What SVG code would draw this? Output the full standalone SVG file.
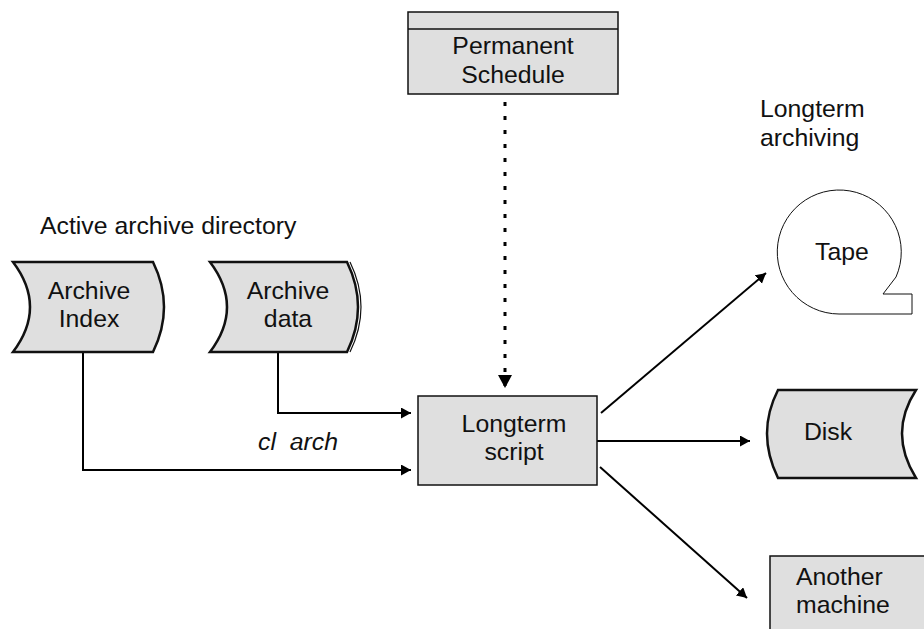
<svg xmlns="http://www.w3.org/2000/svg" width="924" height="629" viewBox="0 0 924 629">
<style>
  text { font-family: "Liberation Sans", Arial, sans-serif; font-size: 24.8px; fill: #111; }
  .mid { text-anchor: middle; }
  .shape { fill: #dfdfdf; stroke: #111; }
  .thick { stroke-width: 2.5; }
  .thin { stroke-width: 1.5; }
  .conn { fill: none; stroke: #000; stroke-width: 2; }
  .dots { fill: none; stroke: #000; stroke-width: 3; stroke-dasharray: 4 10; }
</style>
<defs>
  <marker id="arrow" markerUnits="userSpaceOnUse" markerWidth="12" markerHeight="12" refX="10" refY="5.5" orient="auto">
    <path d="M0,0 L10,5.5 L0,11 Z" fill="#000"/>
  </marker>
  <marker id="arrowBig" markerUnits="userSpaceOnUse" markerWidth="16" markerHeight="16" refX="13" refY="7" orient="auto">
    <path d="M0,0 L13,7 L0,14 Z" fill="#000"/>
  </marker>
</defs>

<text x="40" y="234">Active archive directory</text>
<text x="760" y="117">Longterm</text>
<text x="760" y="146">archiving</text>

<g id="connectors">
  <path class="conn" d="M83,352 V470 H411" marker-end="url(#arrow)"/>
  <path class="conn" d="M278,352 V413 H411" marker-end="url(#arrow)"/>
  <path class="dots" d="M505,102 V388"/>
  <path d="M505,370 V388" fill="none" stroke="none" marker-end="url(#arrowBig)"/>
  <path class="conn" d="M601,413 L766,273" marker-end="url(#arrow)"/>
  <path class="conn" d="M597,441 L750,441" marker-end="url(#arrow)"/>
  <path class="conn" d="M600,467 L747,598" marker-end="url(#arrow)"/>
  <text x="258" y="450" font-style="italic" xml:space="preserve">cl  arch</text>
</g>

<g id="schedule">
  <rect class="shape thin" x="408" y="12" width="210" height="82"/>
  <line x1="408" y1="29" x2="618" y2="29" stroke="#111" stroke-width="1.5"/>
  <text class="mid" x="513" y="54">Permanent</text>
  <text class="mid" x="513" y="83">Schedule</text>
</g>

<g id="archive-index">
  <path class="shape thick" d="M13,262 L153,262 Q175,307 153,352 L13,352 Q47,307 13,262 Z"/>
  <text class="mid" x="89" y="299">Archive</text>
  <text class="mid" x="89" y="327">Index</text>
</g>

<g id="archive-data">
  <path class="shape thick" d="M210,262 L347,262 Q369,307 347,352 L210,352 Q244,307 210,262 Z"/>
  <path d="M350,262 Q372,307 350,352" fill="none" stroke="#111" stroke-width="1.2"/>
  <text class="mid" x="288" y="299">Archive</text>
  <text class="mid" x="288" y="327">data</text>
</g>

<g id="longterm-script">
  <rect class="shape thin" x="418" y="396" width="179" height="89"/>
  <text class="mid" x="514" y="432">Longterm</text>
  <text class="mid" x="514" y="460">script</text>
</g>

<g id="tape">
  <path d="M896,277 A62,62 0 1 0 839,314 L912,314 L912,294 L883,294 Z" fill="#fff" stroke="#111" stroke-width="1"/>
  <text class="mid" x="842" y="260">Tape</text>
</g>

<g id="disk">
  <path class="shape thick" d="M778,390 L916,390 Q888,433 916,478 L778,478 Q756,433 778,390 Z"/>
  <text class="mid" x="828" y="440">Disk</text>
</g>

<g id="another-machine">
  <rect class="shape thin" x="770" y="556" width="170" height="90"/>
  <text x="796" y="585">Another</text>
  <text x="796" y="613">machine</text>
</g>
</svg>
